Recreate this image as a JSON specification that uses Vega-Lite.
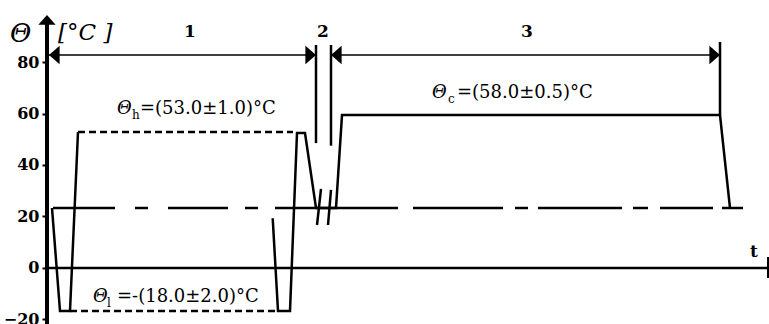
{
  "$schema": "https://vega.github.io/schema/vega-lite/v6.json",
  "width": 722,
  "height": 324,
  "padding": {"left": 47, "top": 0, "right": 0, "bottom": 0},
  "autosize": {"type": "none"},
  "background": "white",
  "config": {"view": {"stroke": null}, "font": "DejaVu Serif"},
  "encoding": {
    "x": {"field": "t", "type": "quantitative", "scale": {"domain": [0, 722], "nice": false, "zero": false}, "axis": null},
    "y": {"field": "v", "type": "quantitative", "scale": {"domain": [-21.75, 104.08], "nice": false, "zero": false},
      "axis": {"title": null, "values": [-20, 0, 20, 40, 60, 80], "domain": false, "grid": false, "ticks": true, "tickSize": 5, "tickWidth": 2, "tickColor": "black", "labelFont": "DejaVu Serif", "labelFontWeight": "bold", "labelFontSize": 16, "labelColor": "black", "labelPadding": 3}}
  },
  "layer": [
    {
      "data": {"values": [
        {"t": 0, "v": -21.75, "t2": 0, "v2": 94.8}
      ]},
      "mark": {"type": "rule", "color": "black", "strokeWidth": 4},
      "encoding": {"x2": {"field": "t2"}, "y2": {"field": "v2"}}
    },
    {
      "data": {"values": [
        {"t": 0, "v": 0, "t2": 722, "v2": 0},
        {"t": 269, "v": 48.5, "t2": 269, "v2": 86.6},
        {"t": 284, "v": 47.5, "t2": 284, "v2": 86.6},
        {"t": 673, "v": 59.4, "t2": 673, "v2": 87.8},
        {"t": 274, "v": 30.7, "t2": 270, "v2": 16.7},
        {"t": 284, "v": 30.3, "t2": 281, "v2": 16.7},
        {"t": 6, "v": 23.3, "t2": 68, "v2": 23.3},
        {"t": 88, "v": 23.3, "t2": 101, "v2": 23.3},
        {"t": 121, "v": 23.3, "t2": 181, "v2": 23.3},
        {"t": 198, "v": 23.3, "t2": 211, "v2": 23.3},
        {"t": 228, "v": 23.3, "t2": 351, "v2": 23.3},
        {"t": 366, "v": 23.3, "t2": 456, "v2": 23.3},
        {"t": 468, "v": 23.3, "t2": 481, "v2": 23.3},
        {"t": 491, "v": 23.3, "t2": 575, "v2": 23.3},
        {"t": 586, "v": 23.3, "t2": 601, "v2": 23.3},
        {"t": 613, "v": 23.3, "t2": 666, "v2": 23.3},
        {"t": 675, "v": 23.3, "t2": 696, "v2": 23.3}
      ]},
      "mark": {"type": "rule", "color": "black", "strokeWidth": 2.5},
      "encoding": {"x2": {"field": "t2"}, "y2": {"field": "v2"}}
    },
    {
      "data": {"values": [
        {"t": 721, "v": -3.9, "t2": 721, "v2": 4.3}
      ]},
      "mark": {"type": "rule", "color": "black", "strokeWidth": 2},
      "encoding": {"x2": {"field": "t2"}, "y2": {"field": "v2"}}
    },
    {
      "data": {"values": [
        {"t": 2, "v": 82.7, "t2": 269, "v2": 82.7},
        {"t": 284, "v": 82.7, "t2": 673, "v2": 82.7}
      ]},
      "mark": {"type": "rule", "color": "black", "strokeWidth": 1.5},
      "encoding": {"x2": {"field": "t2"}, "y2": {"field": "v2"}}
    },
    {
      "data": {"values": [
        {"t": 31, "v": 52.8, "t2": 246, "v2": 52.8},
        {"t": 23, "v": -16.7, "t2": 231, "v2": -16.7}
      ]},
      "mark": {"type": "rule", "color": "black", "strokeWidth": 2.5, "strokeDash": [7, 4]},
      "encoding": {"x2": {"field": "t2"}, "y2": {"field": "v2"}}
    },
    {
      "data": {"values": [
        {"part": "a", "i": 1, "t": 5, "v": 23.3},
        {"part": "a", "i": 2, "t": 13, "v": -16.7},
        {"part": "a", "i": 3, "t": 23, "v": -16.7},
        {"part": "a", "i": 4, "t": 31, "v": 52.8},
        {"part": "b", "i": 1, "t": 225.7, "v": 19.3},
        {"part": "b", "i": 2, "t": 231, "v": -16.7},
        {"part": "b", "i": 3, "t": 243, "v": -16.7},
        {"part": "b", "i": 4, "t": 250, "v": 52.4},
        {"part": "b", "i": 5, "t": 258, "v": 52.4},
        {"part": "b", "i": 6, "t": 269, "v": 23.3},
        {"part": "b", "i": 7, "t": 289, "v": 23.3},
        {"part": "b", "i": 8, "t": 295, "v": 59.4},
        {"part": "b", "i": 9, "t": 673, "v": 59.4},
        {"part": "b", "i": 10, "t": 683, "v": 23.3}
      ]},
      "mark": {"type": "line", "color": "black", "strokeWidth": 2.5, "strokeJoin": "miter"},
      "encoding": {"detail": {"field": "part"}, "order": {"field": "i", "type": "quantitative"}}
    },
    {
      "data": {"values": [
        {"t": 2, "v": 82.7, "dir": "left"},
        {"t": 269, "v": 82.7, "dir": "right"},
        {"t": 284, "v": 82.7, "dir": "left"},
        {"t": 673, "v": 82.7, "dir": "right"}
      ]},
      "mark": {"type": "point", "filled": true, "color": "black", "opacity": 1, "size": 340, "strokeWidth": 0},
      "encoding": {"shape": {"field": "dir", "type": "nominal", "legend": null,
        "scale": {"domain": ["left", "right"], "range": ["M0,0 L1.15,-1 L1.15,1 Z", "M0,0 L-1.15,-1 L-1.15,1 Z"]}}}
    },
    {
      "data": {"values": [
        {"t": 0, "v": 98.3}
      ]},
      "mark": {"type": "point", "filled": true, "color": "black", "opacity": 1, "size": 300, "strokeWidth": 0, "shape": "M0,0 L-1,1.15 L1,1.15 Z"},
      "encoding": {}
    },
    {
      "data": {"values": [
        {"t": -37, "v": 87.8, "text": "Θ"}
      ]},
      "mark": {"type": "text", "align": "left", "baseline": "alphabetic", "font": "DejaVu Serif", "fontStyle": "italic", "fontSize": 26, "color": "black"},
      "encoding": {"text": {"field": "text"}}
    },
    {
      "data": {"values": [
        {"t": 11, "v": 88.5, "text": "[°C ]"}
      ]},
      "mark": {"type": "text", "align": "left", "baseline": "alphabetic", "font": "DejaVu Serif", "fontStyle": "italic", "fontSize": 23, "color": "black"},
      "encoding": {"text": {"field": "text"}}
    },
    {
      "data": {"values": [
        {"t": 93, "v": 59.8, "text": "=(53.0±1.0)°C"},
        {"t": 70, "v": -13.2, "text": "=-(18.0±2.0)°C"},
        {"t": 410, "v": 66.0, "text": "=(58.0±0.5)°C"}
      ]},
      "mark": {"type": "text", "align": "left", "baseline": "alphabetic", "font": "DejaVu Serif", "fontSize": 18, "color": "black"},
      "encoding": {"text": {"field": "text"}}
    },
    {
      "data": {"values": [
        {"t": 70, "v": 59.8, "text": "Θ"},
        {"t": 46, "v": -13.2, "text": "Θ"},
        {"t": 385, "v": 66.0, "text": "Θ"}
      ]},
      "mark": {"type": "text", "align": "left", "baseline": "alphabetic", "font": "DejaVu Serif", "fontStyle": "italic", "fontSize": 18, "color": "black"},
      "encoding": {"text": {"field": "text"}}
    },
    {
      "data": {"values": [
        {"t": 85, "v": 57.9, "text": "h"},
        {"t": 60, "v": -15.1, "text": "l"},
        {"t": 401, "v": 64.1, "text": "c"}
      ]},
      "mark": {"type": "text", "align": "left", "baseline": "alphabetic", "font": "DejaVu Serif", "fontSize": 12, "color": "black"},
      "encoding": {"text": {"field": "text"}}
    },
    {
      "data": {"values": [
        {"t": 143, "v": 89.7, "text": "1"},
        {"t": 276, "v": 89.7, "text": "2"},
        {"t": 480, "v": 89.7, "text": "3"},
        {"t": 707, "v": 4.3, "text": "t"}
      ]},
      "mark": {"type": "text", "align": "center", "baseline": "alphabetic", "font": "DejaVu Serif", "fontWeight": "bold", "fontSize": 17, "color": "black"},
      "encoding": {"text": {"field": "text"}}
    }
  ]
}
